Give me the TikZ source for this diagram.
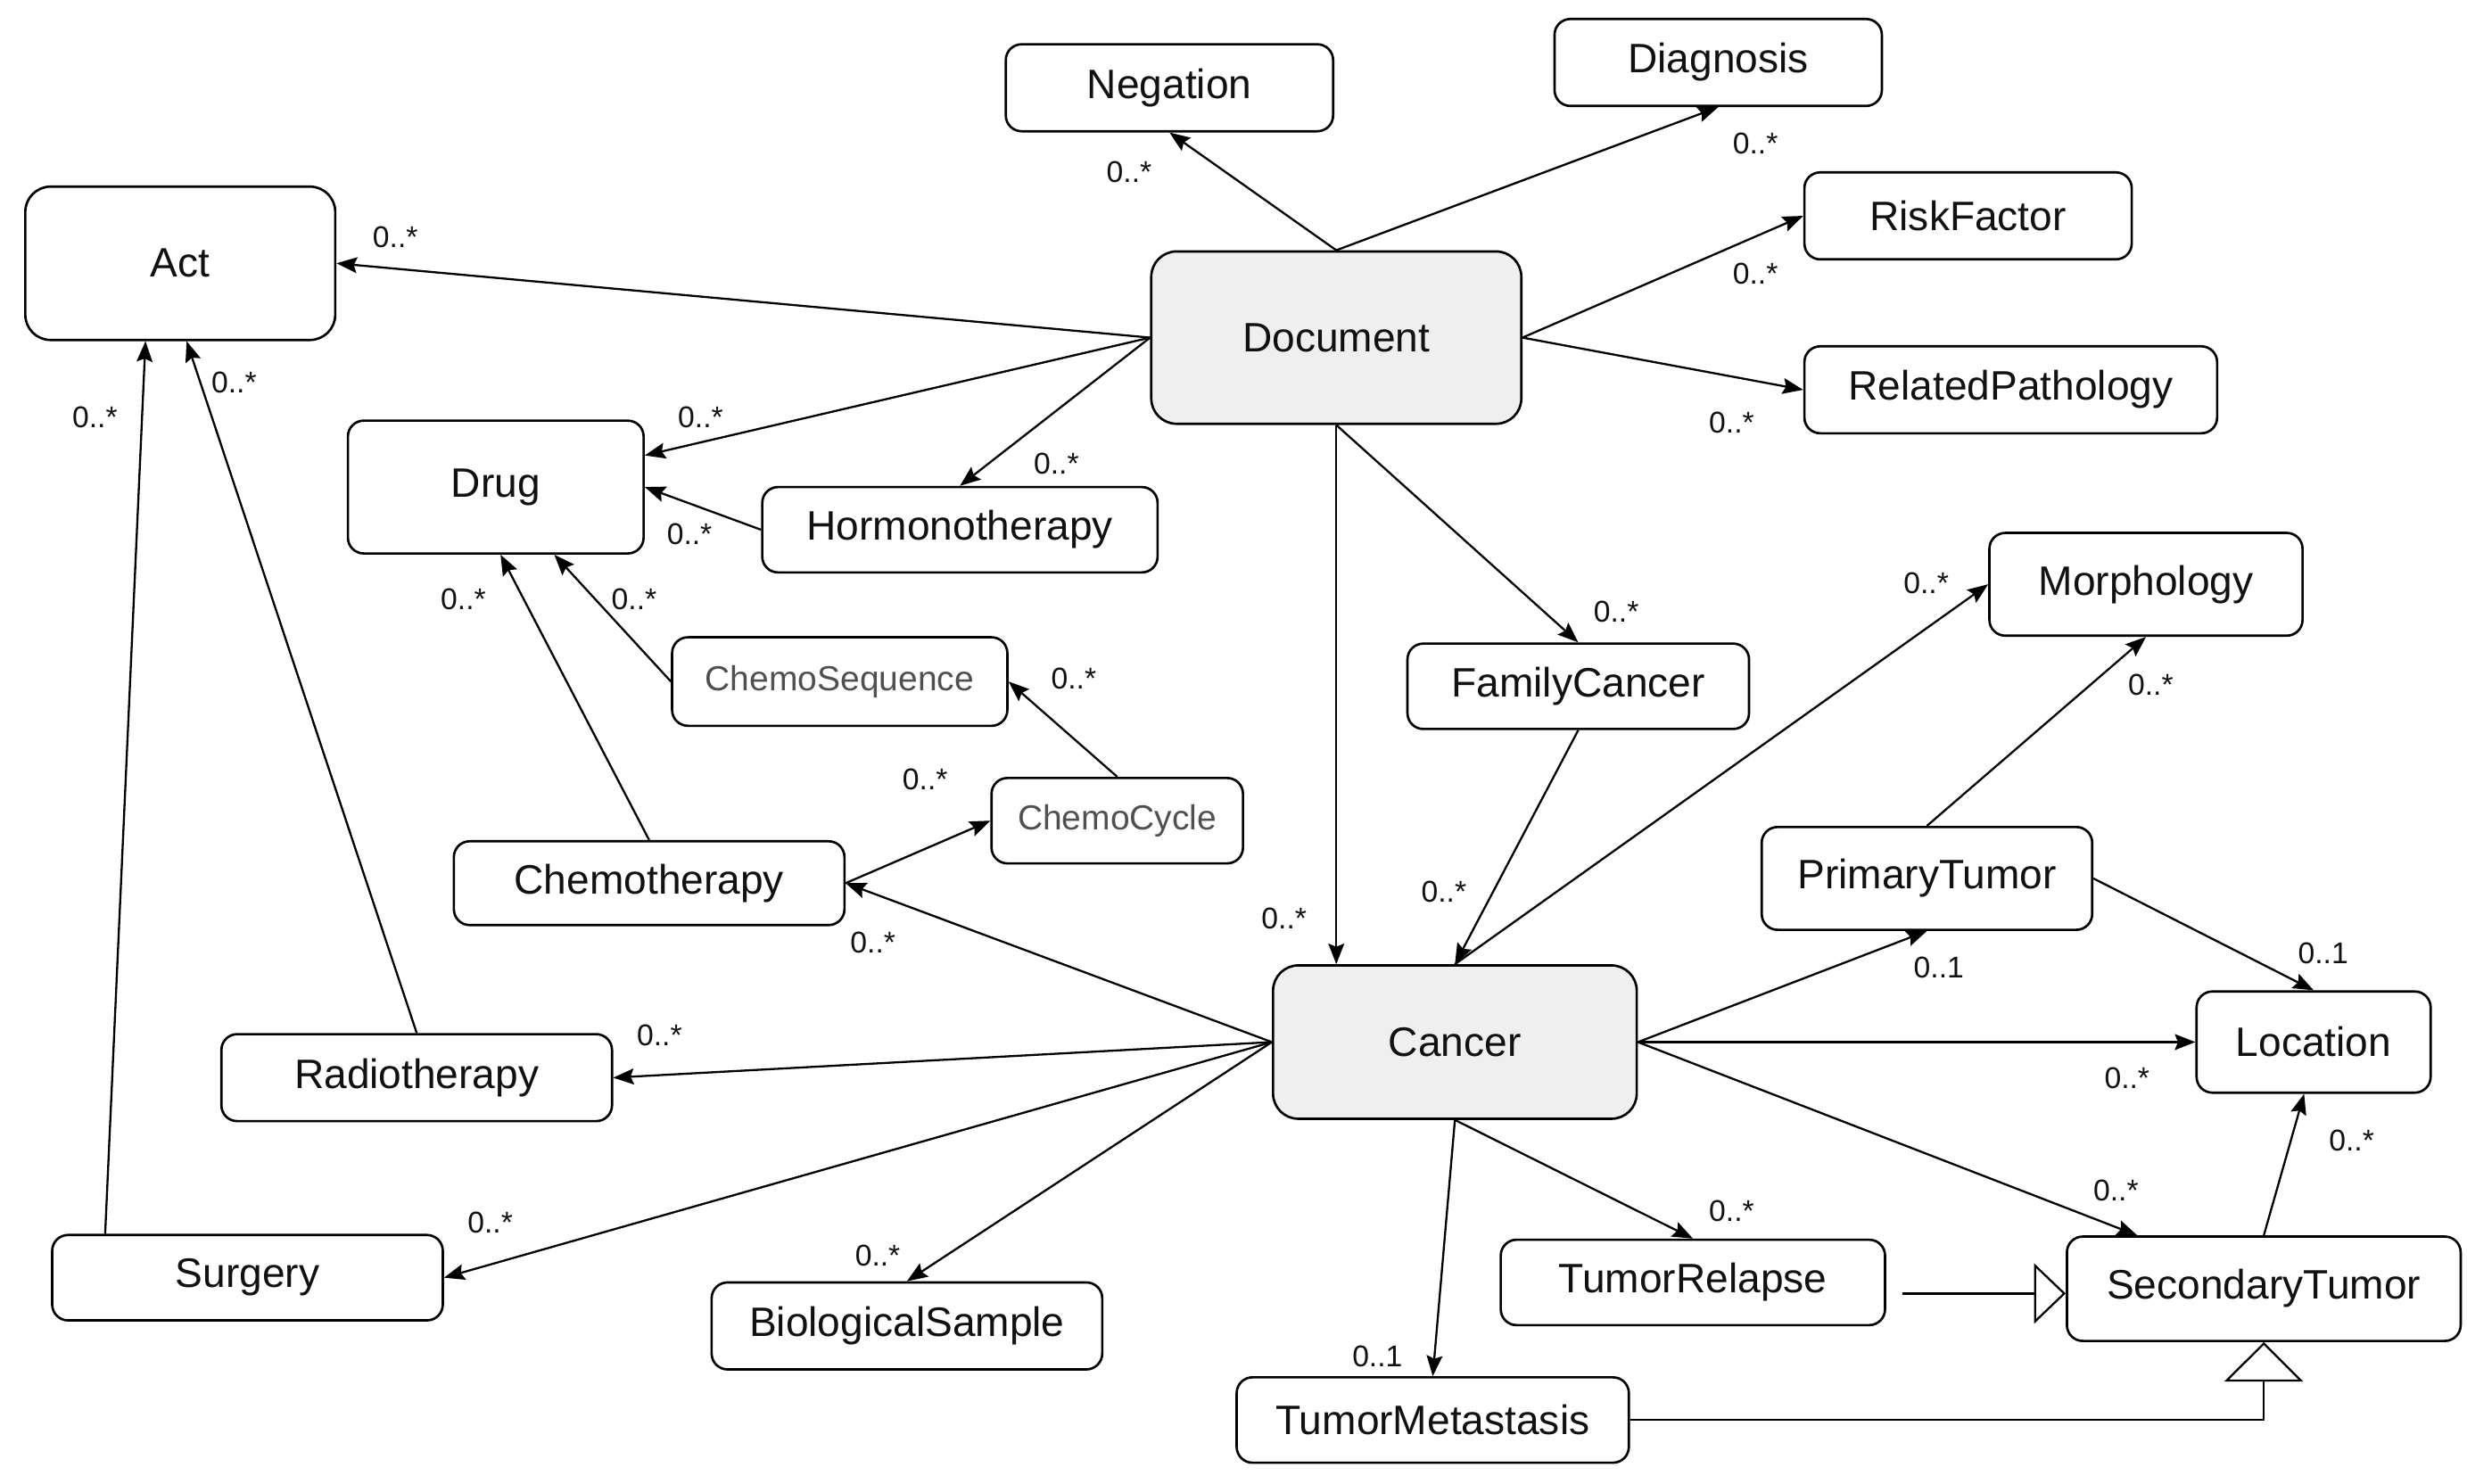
\documentclass[tikz,border=0pt]{standalone}
\usepackage{fontspec}
\setmainfont{Liberation Sans}
\usetikzlibrary{arrows.meta,calc}
\definecolor{docfill}{HTML}{EFEFEF}
\definecolor{txt}{HTML}{111111}
\definecolor{chemotxt}{HTML}{505050}
\begin{document}
\begin{tikzpicture}[x=0.5pt,y=-0.5pt,
  box/.style={draw=black, line width=0.75pt, rounded corners=5pt, fill=white, inner sep=0pt,
    font=\fontsize{13}{15}\selectfont, text=txt},
  bigbox/.style={box, rounded corners=8pt},
  core/.style={bigbox, fill=docfill},
  chemo/.style={box, font=\fontsize{11}{13}\selectfont, text=chemotxt},
  sz/.style 2 args={minimum width=#1*0.5pt, minimum height=#2*0.5pt},
  assoc/.style={draw, line width=0.65pt, -{Stealth[length=6.5pt,width=5pt,inset=1pt]}},
  genh/.style={draw, line width=0.65pt, -{Triangle[open,length=10pt,width=19pt]}},
  genv/.style={draw, line width=0.65pt, -{Triangle[open,length=12.5pt,width=25pt]}},
  lab/.style={font=\fontsize{9.5}{11}\selectfont, text=txt, inner sep=0pt}
]
\useasboundingbox (0,0) rectangle (1560,938.4);

% nodes
\node[box, sz={207}{55}] (Negation) at (739.5,55.5) {Negation};
\node[box, sz={207}{55}] (Diagnosis) at (1086.5,39.5) {Diagnosis};
\node[bigbox, sz={196}{97}] (Act) at (114,166.5) {Act};
\node[core, sz={234}{109}] (Document) at (845,213.5) {Document};
\node[box, sz={207}{55}] (RiskFactor) at (1244.5,136.5) {RiskFactor};
\node[box, sz={261}{55}] (RelatedPathology) at (1271.5,246.5) {RelatedPathology};
\node[box, sz={187}{84}] (Drug) at (313.5,308) {Drug};
\node[box, sz={250}{54}] (Hormonotherapy) at (607,335) {Hormonotherapy};
\node[box, sz={198}{65}] (Morphology) at (1357,369.5) {Morphology};
\node[box, sz={216}{54}] (FamilyCancer) at (998,434) {FamilyCancer};
\node[chemo, sz={212}{56}] (ChemoSequence) at (531,431) {ChemoSequence};
\node[chemo, sz={159}{54}] (ChemoCycle) at (706.5,519) {ChemoCycle};
\node[box, sz={247}{53}] (Chemotherapy) at (410.5,558.5) {Chemotherapy};
\node[box, sz={209}{65}] (PrimaryTumor) at (1218.5,555.5) {PrimaryTumor};
\node[core, sz={230}{97}] (Cancer) at (920,659) {Cancer};
\node[box, sz={148}{64}] (Location) at (1463,659) {Location};
\node[box, sz={247}{55}] (Radiotherapy) at (263.5,681.5) {Radiotherapy};
\node[box, sz={247}{54}] (Surgery) at (156.5,808) {Surgery};
\node[box, sz={247}{55}] (BiologicalSample) at (573.5,838.5) {BiologicalSample};
\node[box, sz={243}{54}] (TumorRelapse) at (1070.5,811) {TumorRelapse};
\node[box, sz={249}{66}] (SecondaryTumor) at (1431.5,815) {SecondaryTumor};
\node[box, sz={248}{54}] (TumorMetastasis) at (906,898) {TumorMetastasis};

% connectors from Document
\draw[assoc] (Document.north) -- (Negation.south);
\draw[assoc] (Document.north) -- (Diagnosis.south);
\draw[assoc] (Document.west) -- (Act.east);
\draw[assoc] (Document.west) -- ($(Drug.east)+(0,-20)$);
\draw[assoc] (Document.west) -- (Hormonotherapy.north);
\draw[assoc] (Document.east) -- (RiskFactor.west);
\draw[assoc] (Document.east) -- (RelatedPathology.west);
\draw[assoc] (Document.south) -- (Document.south |- Cancer.north);
\draw[assoc] (Document.south) -- (FamilyCancer.north);
\draw[assoc] (Hormonotherapy.west) -- (Drug.east);
\draw[assoc] (FamilyCancer.south) -- (Cancer.north);

% connectors from Cancer
\draw[assoc] (Cancer.north) -- (Morphology.west);
\draw[assoc] (Cancer.east) -- (PrimaryTumor.south);
\draw[assoc] (Cancer.east) -- (Location.west);
\draw[assoc] (Cancer.east) -- ($(SecondaryTumor.north)+(-80,0)$);
\draw[assoc] (Cancer.south) -- (TumorRelapse.north);
\draw[assoc] (Cancer.south) -- (TumorMetastasis.north);
\draw[assoc] (Cancer.west) -- (Chemotherapy.east);
\draw[assoc] (Cancer.west) -- (Radiotherapy.east);
\draw[assoc] (Cancer.west) -- (Surgery.east);
\draw[assoc] (Cancer.west) -- (BiologicalSample.north);

% other associations
\draw[assoc] (PrimaryTumor.north) -- (Morphology.south);
\draw[assoc] (PrimaryTumor.east) -- (Location.north);
\draw[assoc] (SecondaryTumor.north) -- ($(Location.south)+(-6,0)$);
\draw[assoc] (Chemotherapy.east) -- (ChemoCycle.west);
\draw[assoc] (ChemoCycle.north) -- (ChemoSequence.east);
\draw[assoc] (ChemoSequence.west) -- ($(Drug.south)+(37,0)$);
\draw[assoc] (Chemotherapy.north) -- ($(Drug.south)+(3,0)$);
\draw[assoc] (Radiotherapy.north) -- ($(Act.south)+(4,0)$);
\draw[assoc] ($(Surgery.north)+(-90,0)$) -- ($(Act.south)+(-22,0)$);

% generalizations
\draw[genh] ($(TumorRelapse.east |- SecondaryTumor.west)+(10,3)$) -- ($(SecondaryTumor.west)+(0,3)$);
\draw[genv] (TumorMetastasis.east) -| (SecondaryTumor.south);

% multiplicities
\node[lab] (l1) at (714,109) {0..*};
\node[lab] (l2) at (1110,91) {0..*};
\node[lab] (l3) at (1110,173) {0..*};
\node[lab] (l4) at (1095,267) {0..*};
\node[lab] (l5) at (250,150) {0..*};
\node[lab] (l6) at (443,264) {0..*};
\node[lab] (l7) at (668,293) {0..*};
\node[lab] (l8) at (436,338) {0..*};
\node[lab] (l9) at (812,581) {0..*};
\node[lab] (l10) at (1022,387) {0..*};
\node[lab] (l11) at (913,564) {0..*};
\node[lab] (l12) at (1218,369) {0..*};
\node[lab] (l13) at (1360,433) {0..*};
\node[lab] (l14) at (1226,612) {0..1};
\node[lab] (l15) at (1469,603) {0..1};
\node[lab] (l16) at (1345,682) {0..*};
\node[lab] (l17) at (1338,753) {0..*};
\node[lab] (l18) at (1487,721) {0..*};
\node[lab] (l19) at (1095,766) {0..*};
\node[lab] (l20) at (871,858) {0..1};
\node[lab] (l21) at (552,596) {0..*};
\node[lab] (l22) at (417,655) {0..*};
\node[lab] (l23) at (310,773) {0..*};
\node[lab] (l24) at (555,794) {0..*};
\node[lab] (l25) at (585,493) {0..*};
\node[lab] (l26) at (679,429) {0..*};
\node[lab] (l27) at (401,379) {0..*};
\node[lab] (l28) at (293,379) {0..*};
\node[lab] (l29) at (148,242) {0..*};
\node[lab] (l30) at (60,264) {0..*};
\end{tikzpicture}
\end{document}
